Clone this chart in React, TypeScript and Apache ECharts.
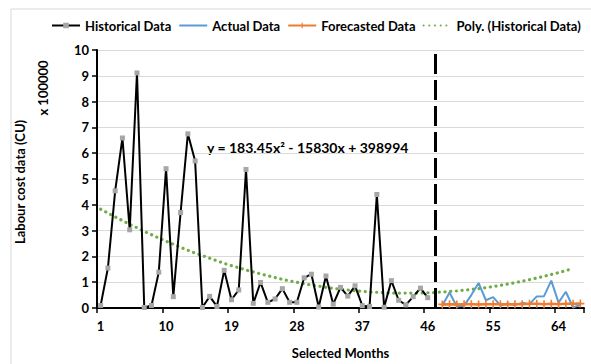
import React, { useEffect, useRef } from "react";
import * as echarts from "echarts";

const categories: string[] = Array.from({ length: 67 }, (_, i) => String(i + 1));

// Values in units of 100000 CU
const historical: number[] = [
  0.1, 1.55, 4.54, 6.59, 3.03, 9.11, 0.02, 0.1, 1.39, 5.4,
  0.44, 3.7, 6.75, 5.7, 0.02, 0.45, 0.06, 1.46, 0.32, 0.7,
  5.37, 0.18, 0.99, 0.22, 0.35, 0.75, 0.22, 0.22, 1.17, 1.31,
  0.04, 1.24, 0.15, 0.8, 0.46, 0.86, 0.09, 0.06, 4.4, 0.03,
  1.06, 0.3, 0.12, 0.44, 0.77, 0.4,
];

const actual: number[] = [
  0.09, 0.6, 0.06, 0.09, 0.5, 0.97, 0.3, 0.42, 0.1, 0.18,
  0.12, 0.2, 0.15, 0.45, 0.46, 1.06, 0.21, 0.63, 0.02, 0.12,
];

const forecast: number[] = [
  0.14, 0.15, 0.14, 0.15, 0.15, 0.14, 0.15, 0.15, 0.15, 0.14,
  0.15, 0.15, 0.16, 0.16, 0.15, 0.16, 0.15, 0.16, 0.16, 0.17,
];

const polyTrend: number[] = [
  3.83, 3.68, 3.53, 3.39, 3.24, 3.11, 2.97, 2.84, 2.71, 2.59,
  2.47, 2.35, 2.24, 2.13, 2.03, 1.93, 1.83, 1.73, 1.64, 1.56,
  1.47, 1.4, 1.32, 1.25, 1.18, 1.11, 1.05, 1.0, 0.94, 0.89,
  0.85, 0.8, 0.76, 0.73, 0.7, 0.67, 0.64, 0.62, 0.61, 0.59,
  0.58, 0.58, 0.58, 0.58, 0.58, 0.59, 0.6, 0.62, 0.64, 0.66,
  0.69, 0.72, 0.75, 0.79, 0.83, 0.88, 0.93, 0.98, 1.04, 1.1,
  1.16, 1.23, 1.3, 1.37, 1.45, 1.53,
];

const forecastStart = "48";
const dividerCategory = "47";
const equationText = "y = 183.45x\u00B2 - 15830x + 398994";

const FONT = "Lato, 'Liberation Sans', sans-serif";
const PLUS = "path://M4,0 L6,0 L6,4 L10,4 L10,6 L6,6 L6,10 L4,10 L4,6 L0,6 L0,4 L4,4 Z";

function pad(values: number[], startIndex: number, total: number): (number | null)[] {
  const out: (number | null)[] = [];
  for (let i = 0; i < total; i++) {
    const j = i - startIndex;
    out.push(j >= 0 && j < values.length ? values[j] : null);
  }
  return out;
}

export default function App() {
  const ref = useRef<HTMLDivElement>(null);
  useEffect(() => {
    document.body.style.margin = "0";
    if (!ref.current) return;
    const chart = echarts.init(ref.current, null, { renderer: "svg" });
    const n = categories.length;
    const startIdx = categories.indexOf(forecastStart);
    chart.setOption({
      animation: false,
      textStyle: { fontFamily: FONT },
      legend: {
        top: 14,
        left: 46,
        itemWidth: 28,
        itemHeight: 7,
        itemGap: 7,
        textStyle: { fontFamily: FONT, fontWeight: "bold", fontSize: 13, color: "#000" },
        data: [
          { name: "Historical Data" },
          { name: "Actual Data", itemStyle: { opacity: 0 } },
          { name: "Forecasted Data" },
          { name: "Poly. (Historical Data)", itemStyle: { opacity: 0 } },
        ],
      },
      grid: { left: 97, right: 7, top: 50, bottom: 56, containLabel: false },
      xAxis: {
        type: "category",
        data: categories,
        boundaryGap: true,
        name: "Selected Months",
        nameLocation: "middle",
        nameGap: 38,
        nameTextStyle: { fontFamily: FONT, fontWeight: "bold", fontSize: 13, color: "#000" },
        axisLine: { lineStyle: { color: "#000", width: 2 } },
        axisTick: { show: true, interval: 8, length: 5, lineStyle: { color: "#000", width: 1.5 } },
        axisLabel: { interval: 8, fontFamily: FONT, fontWeight: "bold", fontSize: 13, color: "#000", margin: 11 },
        splitLine: { show: false },
      },
      yAxis: {
        type: "value",
        min: 0,
        max: 10,
        interval: 1,
        axisLine: { show: true, lineStyle: { color: "#000", width: 2 } },
        axisTick: { show: true, length: 5, lineStyle: { color: "#000", width: 1.5 } },
        axisLabel: { fontFamily: FONT, fontWeight: "bold", fontSize: 13, color: "#000", margin: 8 },
        splitLine: { show: true, lineStyle: { color: "#d9d9d9", width: 1 } },
      },
      graphic: [
        {
          type: "rect",
          shape: { x: 11, y: 9, width: 600, height: 400 },
          style: { fill: "none", stroke: "#d9d9d9", lineWidth: 1 },
          silent: true,
          z: -1,
        },
        {
          type: "text",
          x: 20,
          y: 182,
          rotation: Math.PI / 2,
          style: {
            text: "Labour cost data (CU)",
            fontFamily: FONT,
            fontWeight: "bold",
            fontSize: 13,
            fill: "#000",
            align: "center",
            verticalAlign: "middle",
          },
        },
        {
          type: "text",
          x: 43,
          y: 88,
          rotation: Math.PI / 2,
          style: {
            text: "x 100000",
            fontFamily: FONT,
            fontWeight: "bold",
            fontSize: 13,
            fill: "#000",
            align: "center",
            verticalAlign: "middle",
          },
        },
        {
          type: "text",
          x: 207,
          y: 147,
          style: {
            text: equationText,
            fontFamily: FONT,
            fontWeight: "bold",
            fontSize: 14,
            fill: "#000",
            align: "left",
            verticalAlign: "middle",
          },
        },
      ],
      series: [
        {
          name: "Historical Data",
          type: "line",
          data: pad(historical, 0, n),
          symbol: "rect",
          symbolSize: 5,
          showSymbol: true,
          showAllSymbol: true,
          itemStyle: { color: "#a6a6a6" },
          lineStyle: { color: "#000", width: 2 },
          z: 3,
          markLine: {
            silent: true,
            symbol: ["none", "none"],
            label: { show: false },
            lineStyle: { color: "#000", width: 3, type: [20, 6] },
            data: [{ xAxis: dividerCategory }],
          },
        },
        {
          name: "Actual Data",
          type: "line",
          data: pad(actual, startIdx, n),
          showSymbol: false,
          symbol: "none",
          itemStyle: { color: "#5b9bd5" },
          lineStyle: { color: "#5b9bd5", width: 2 },
          z: 3,
        },
        {
          name: "Forecasted Data",
          type: "line",
          data: pad(forecast, startIdx, n),
          symbol: PLUS,
          symbolSize: 8,
          showAllSymbol: true,
          itemStyle: { color: "#ed7d31" },
          lineStyle: { color: "#ed7d31", width: 2.5 },
          z: 4,
        },
        {
          name: "Poly. (Historical Data)",
          type: "line",
          data: pad(polyTrend, 0, n),
          symbol: "none",
          showSymbol: false,
          itemStyle: { color: "#70ad47" },
          lineStyle: { color: "#70ad47", width: 3.2, type: [0.1, 5.6], cap: "round" },
          z: 2,
        },
      ],
    });
    return () => chart.dispose();
  }, []);
  return <div ref={ref} style={{ width: 591, height: 364 }} />;
}
